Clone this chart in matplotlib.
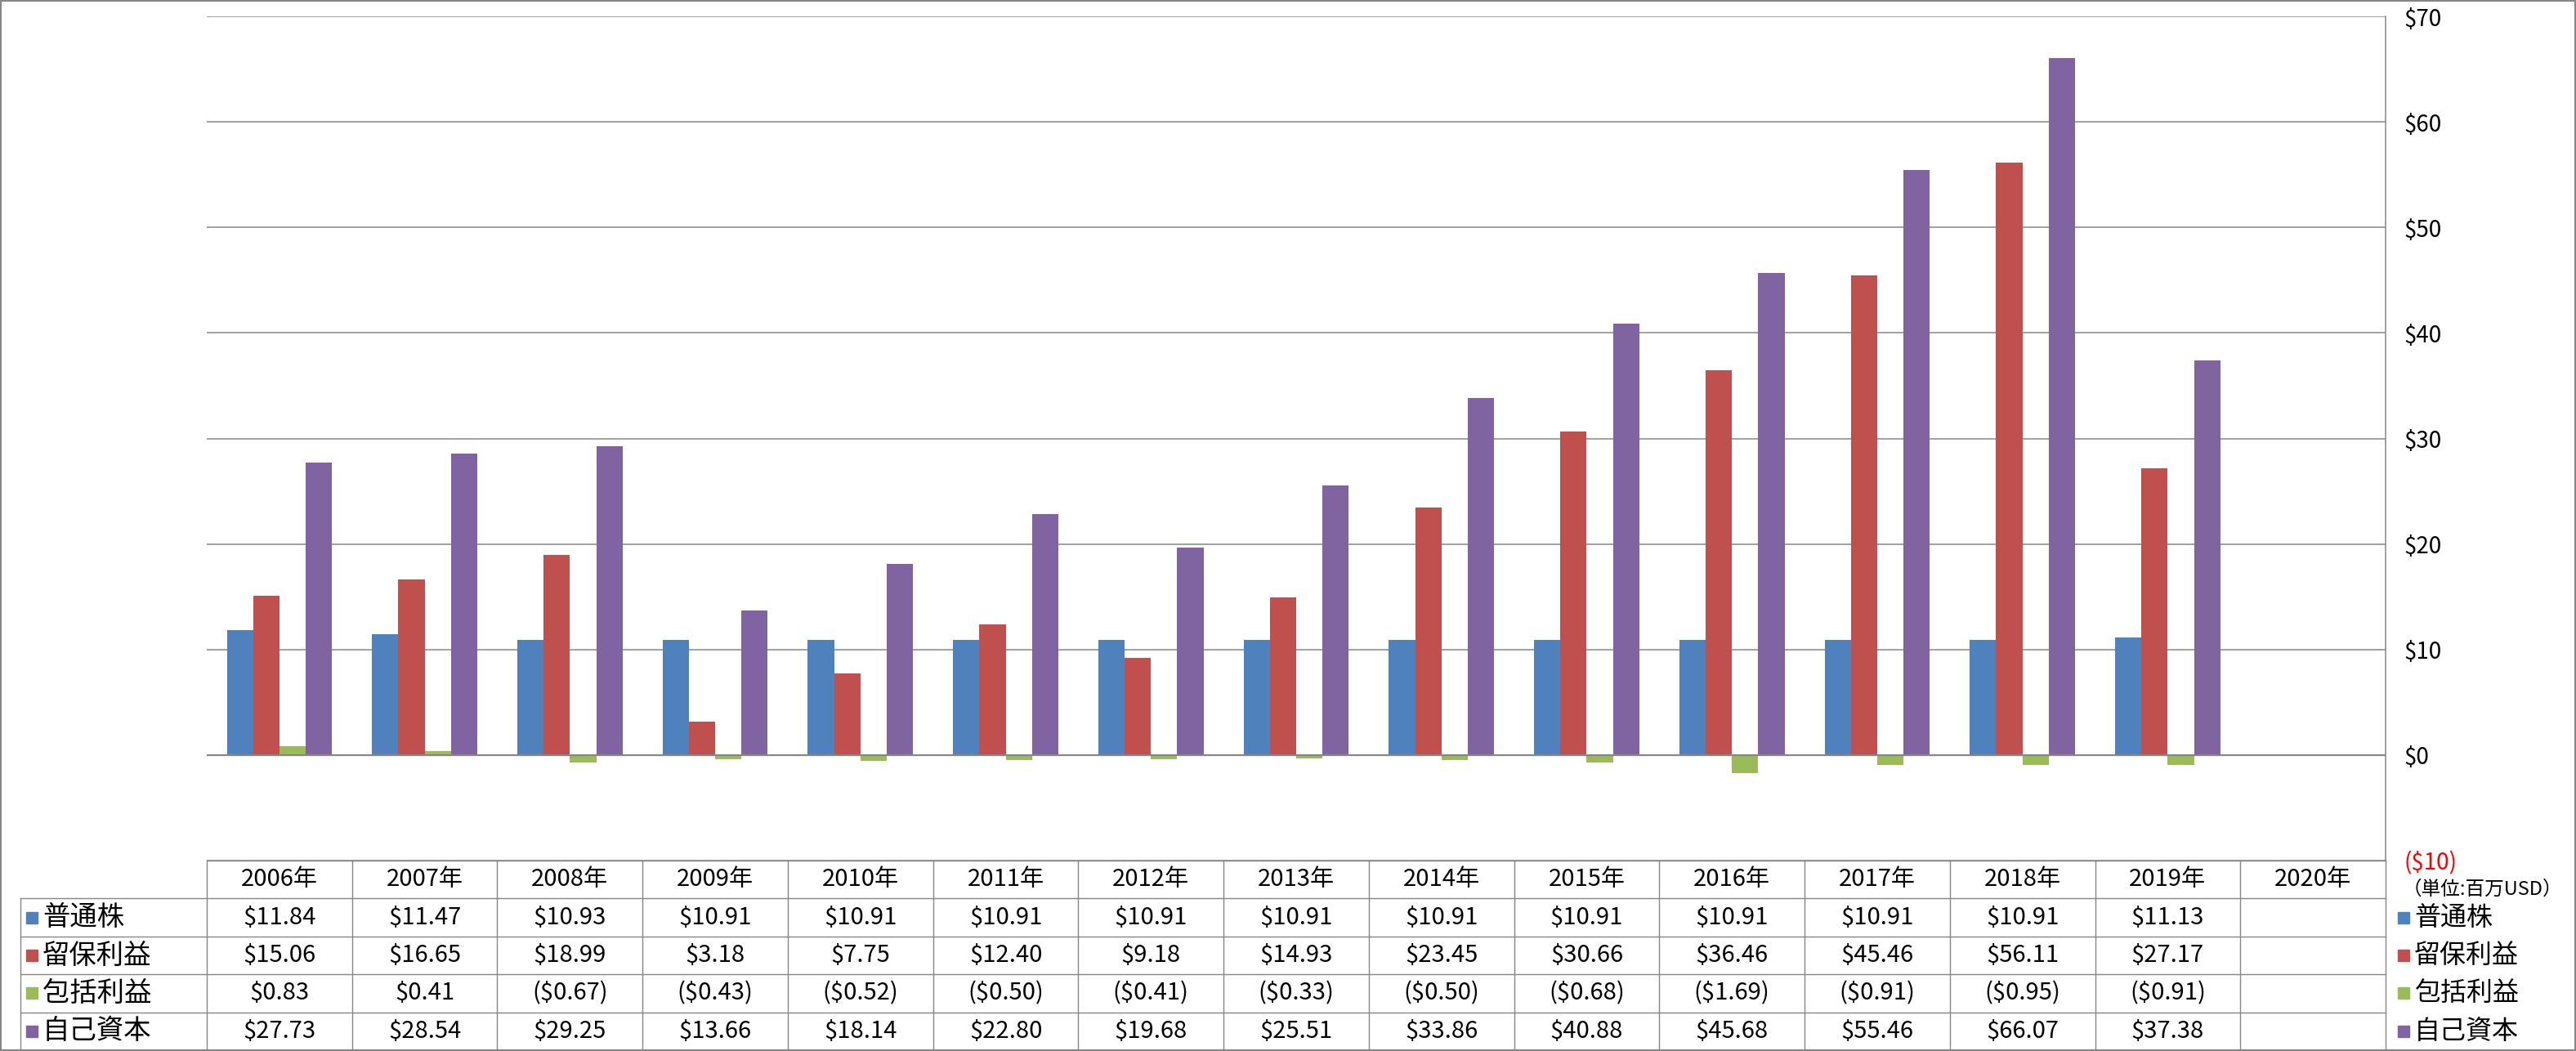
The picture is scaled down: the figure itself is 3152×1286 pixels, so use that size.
import numpy as np
import matplotlib
matplotlib.use("Agg")
import matplotlib.pyplot as plt
from matplotlib.patches import Rectangle

plt.rcParams['font.family'] = ['Noto Sans CJK JP', 'DejaVu Sans']

# data
years = ['2006年', '2007年', '2008年', '2009年', '2010年', '2011年', '2012年',
         '2013年', '2014年', '2015年', '2016年', '2017年', '2018年', '2019年', '2020年']
series_names = ['普通株', '留保利益', '包括利益', '自己資本']
common_stock = [11.84, 11.47, 10.93, 10.91, 10.91, 10.91, 10.91, 10.91, 10.91, 10.91, 10.91, 10.91, 10.91, 11.13]
retained = [15.06, 16.65, 18.99, 3.18, 7.75, 12.40, 9.18, 14.93, 23.45, 30.66, 36.46, 45.46, 56.11, 27.17]
comprehensive = [0.83, 0.41, -0.67, -0.43, -0.52, -0.50, -0.41, -0.33, -0.50, -0.68, -1.69, -0.91, -0.95, -0.91]
equity = [27.73, 28.54, 29.25, 13.66, 18.14, 22.80, 19.68, 25.51, 33.86, 40.88, 45.68, 55.46, 66.07, 37.38]
colors = ['#4F81BD', '#C0504D', '#9BBB59', '#8064A2']
yticks = [-10, 0, 10, 20, 30, 40, 50, 60, 70]

series = [common_stock, retained, comprehensive, equity]
GRID = '#868686'
W, H = 3152, 1286


def money(v):
    if v < 0:
        return '(${:,.2f})'.format(-v)
    return '${:,.2f}'.format(v)


def tick_money(v):
    if v < 0:
        return '(${:d})'.format(int(-v))
    return '${:d}'.format(int(v))


fig = plt.figure(figsize=(W / 100, H / 100), dpi=100)

# layout in pixels
x0, x1 = 253, 2919
y_top, y_tab, y_bot = 20, 1053, 1285
ax = fig.add_axes([x0 / W, 1 - y_tab / H, (x1 - x0) / W, (y_tab - y_top) / H])
n = len(years)
cw = (x1 - x0) / n  # pixels per category

bw = 0.181
for i, (vals, c) in enumerate(zip(series, colors)):
    xs = np.arange(len(vals)) + (i - 1.5) * bw
    ax.bar(xs, vals, width=bw, color=c, zorder=3, linewidth=0)

ax.set_xlim(-0.5, n - 0.5)
ax.set_ylim(-10, 70)
ax.set_xticks([])
ax.set_yticks(yticks)
ax.yaxis.tick_right()
ax.set_yticklabels([tick_money(v) for v in yticks], fontsize=20)
ax.tick_params(axis='y', length=0, pad=16)
for lab, v in zip(ax.get_yticklabels(), yticks):
    lab.set_horizontalalignment('left')
    if v < 0:
        lab.set_color('red')
ax.grid(axis='y', color=GRID, linewidth=1.1, zorder=0)
for s in ['top', 'left', 'bottom']:
    ax.spines[s].set_visible(False)
ax.spines['right'].set_color(GRID)
ax.spines['right'].set_linewidth(1.1)
ax.axhline(0, color=GRID, linewidth=1.6, zorder=4)

# unit note under the ($10) label
fig.text(2940 / W, 1 - 1088 / H, '（単位:百万USD）', fontsize=17, va='center', ha='left')

# data table
tab = fig.add_axes([x0 / W, 1 - y_bot / H, (x1 - x0) / W, (y_bot - y_tab) / H], sharex=ax)
tab.set_ylim(5, 0)
tab.axis('off')
left_edge = -0.5 - (x0 - 25) / cw
kw = dict(color=GRID, linewidth=1.0, clip_on=False)
tab.plot([-0.5, n - 0.5], [0, 0], **kw)
for r in range(1, 5):
    tab.plot([left_edge, n - 0.5], [r, r], **kw)
for k in range(n + 1):
    tab.plot([k - 0.5, k - 0.5], [0, 5], **kw)
tab.plot([left_edge, left_edge], [1, 5], **kw)

for k, yr in enumerate(years):
    tab.text(k, 0.5, yr, ha='center', va='center', fontsize=21)
for r, (name, vals, c) in enumerate(zip(series_names, series, colors)):
    yc = r + 1.5
    for k, v in enumerate(vals):
        tab.text(k, yc, money(v), ha='center', va='center', fontsize=21)
    # row label with key
    tab.plot([left_edge + 14 / cw], [yc], marker='s', markersize=9.5, color=c, clip_on=False)
    tab.text(left_edge + 27 / cw, yc, name, ha='left', va='center', fontsize=24)
    # right legend
    lx = n - 0.5 + 22 / cw
    tab.plot([lx], [yc], marker='s', markersize=9.5, color=c, clip_on=False)
    tab.text(lx + 13 / cw, yc, name, ha='left', va='center', fontsize=23)

# outer frame
fig.patches.append(Rectangle((0, 0), 1, 1, transform=fig.transFigure, fill=False,
                             edgecolor=GRID, linewidth=3))

fig.savefig('out.png', dpi=100)
